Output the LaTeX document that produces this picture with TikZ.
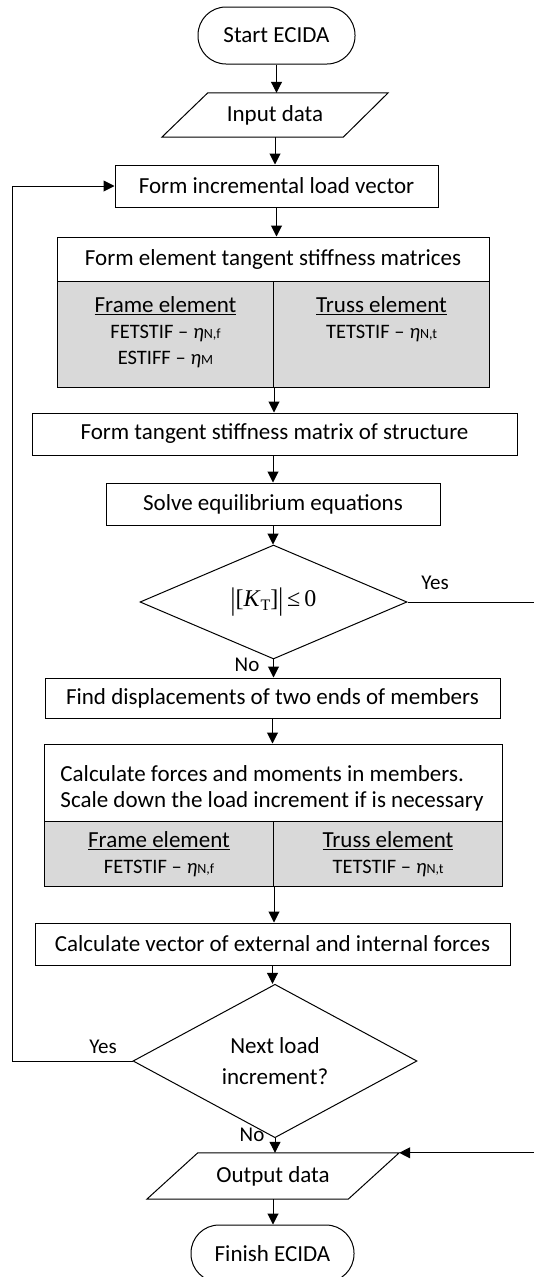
\documentclass[tikz,border=0pt]{standalone}
\usepackage{fontspec}
\setmainfont{Carlito}
\newfontfamily\tnr{Liberation Serif}
\usepackage{graphicx}
\usetikzlibrary{shapes.geometric,arrows.meta,calc}
\definecolor{cellgrey}{RGB}{217,217,217}
\newcommand\subfnt{\fontsize{20.5}{25.5}\selectfont}
\newcommand\etasub[1]{\textit{η}{\fontsize{14}{16}\selectfont #1}}
\newcommand\tallbar{\raisebox{-0.12em}{\scalebox{1}[1.3]{|}}}
\tikzset{
  ln/.style={line width=1pt},
  arr/.style={ln,-{Triangle[length=11pt,width=11pt]}},
  procbox/.style={draw,ln,inner sep=0pt,minimum height=42pt},
  term/.style={draw,ln,rounded corners=28pt,inner sep=0pt},
  decis/.style={diamond,draw,ln,inner sep=0pt,align=center},
  cell/.style={draw,ln,fill=cellgrey,inner sep=0pt,align=center,anchor=north west},
  lbl/.style={font=\fontsize{21}{24}\selectfont},
}
\begin{document}
\begin{tikzpicture}[x=1pt,y=-1pt,font=\fontsize{23}{26}\selectfont]
\useasboundingbox (0,0) rectangle (534,1277);

\node[term, minimum width=157pt, minimum height=57pt] (start) at (276.5,35.5) {Start ECIDA};

\node[inner sep=0pt, minimum width=226pt, minimum height=44pt] (in) at (275,115) {Input data};
\draw[ln] (in.north east) -- ($(in.south east)+(-45,0)$) -- (in.south west) -- ($(in.north west)+(46,0)$) -- cycle;

\node[procbox, minimum width=323pt] (load) at (276.5,186) {Form incremental load vector};

\node[procbox, minimum width=432pt, minimum height=44pt] (ehead) at (273,259) {Form element tangent stiffness matrices};
\node[cell, minimum width=216pt, minimum height=106pt] (eL) at (57,281)
  {\underline{Frame element}\\{\subfnt FETSTIF – \etasub{N,f}}\\{\subfnt ESTIFF – \etasub{M}\strut}};
\node[cell, minimum width=216pt, minimum height=106pt] (eR) at (273,281)
  {\underline{Truss element}\\{\subfnt TETSTIF – \etasub{N,t}}\\{\subfnt\strut}};

\node[procbox, minimum width=485pt] (stiff) at (274.5,434) {Form tangent stiffness matrix of structure};
\node[procbox, minimum width=334pt] (solve) at (273,504) {Solve equilibrium equations};

\node[decis, minimum width=267pt, minimum height=102pt] (d1) at (273.5,602)
  {\fontsize{24}{28}\selectfont\tnr\tallbar[\textit{K}{\fontsize{16}{18}\selectfont\raisebox{-0.25em}{T}}]\tallbar\,≤\,0};
\node[lbl] (yes1) at (435,583) {Yes};
\node[lbl] (no1) at (247,665) {No};

\node[procbox, minimum width=455pt, minimum height=40pt] (disp) at (272.5,698) {Find displacements of two ends of members};

\node[draw, ln, inner sep=0pt, minimum width=458pt, minimum height=77pt] (chead) at (273,782.5) {};
\node[inner sep=0pt, align=left] (chtext) at (272,788)
  {Calculate forces and moments in members.\\Scale down the load increment if is necessary};
\node[cell, minimum width=229pt, minimum height=65pt] (cL) at (44,821)
  {\underline{Frame element}\\{\subfnt FETSTIF – \etasub{N,f}}};
\node[cell, minimum width=229pt, minimum height=65pt] (cR) at (273,821)
  {\underline{Truss element}\\{\subfnt TETSTIF – \etasub{N,t}}};

\node[procbox, minimum width=475pt] (vec) at (272.5,944) {Calculate vector of external and internal forces};

\node[decis, minimum width=284pt, minimum height=136pt, font=\fontsize{23}{31}\selectfont] (d2) at (275,1061) {Next load\\increment?};
\node[lbl] (yes2) at (103,1047) {Yes};
\node[lbl] (no2) at (252,1135) {No};

\node[inner sep=0pt, minimum width=252pt, minimum height=46pt] (out) at (273,1176) {Output data};
\draw[ln] (out.north east) -- ($(out.south east)+(-51,0)$) -- (out.south west) -- ($(out.north west)+(51,0)$) -- cycle;

\node[term, minimum width=163pt, minimum height=57pt] (finish) at (272.5,1253.5) {Finish ECIDA};

% connectors
\draw[arr] (start.south) -- (start.south |- in.north);
\draw[arr] (in.south) -- (in.south |- load.north);
\draw[arr] (load.south) -- (load.south |- ehead.north);
\draw[arr] (eL.south east) -- (eL.south east |- stiff.north);
\draw[arr] (solve.north |- stiff.south) -- (solve.north);
\draw[arr] (solve.south) -- (solve.south |- d1.north);
\draw[arr] (d1.south) -- (d1.south |- disp.north);
\draw[arr] (disp.south) -- (disp.south |- chead.north);
\draw[arr] (cL.south east) -- (cL.south east |- vec.north);
\draw[arr] (vec.south) -- (vec.south |- d2.north);
\draw[arr] (d2.south) -- (d2.south |- out.north);
\draw[arr] (out.south) -- (out.south |- finish.north);

\coordinate (lft) at (12,1061);
\draw[arr] (d2.west) -- (lft) |- (load.west);
\coordinate (rgt) at (536,602);
\draw[arr] (d1.east) -- (rgt) |- (out.north east);
\end{tikzpicture}
\end{document}
